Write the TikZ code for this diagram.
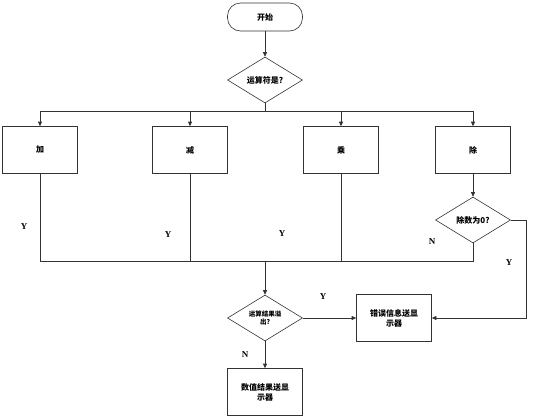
\documentclass[tikz,border=0pt]{standalone}
\usepackage{fontspec}
\setmainfont{Liberation Serif}
\newfontfamily\cjk{Noto Sans CJK SC}
\usetikzlibrary{shapes.geometric,arrows.meta}
\begin{document}
\begin{tikzpicture}[x=1pt,y=-1pt,
  line/.style={draw=black!80,line width=0.6pt},
  arr/.style={line,-{Triangle[length=4.5pt,width=4pt]}},
  procbox/.style={draw=black!80,line width=0.6pt,minimum width=75pt,minimum height=47pt,inner sep=1pt,align=center,font=\cjk\bfseries\fontsize{8}{10}\selectfont},
  decision/.style={diamond,draw=black!80,line width=0.6pt,minimum width=75pt,minimum height=46pt,aspect=1.63,inner sep=0pt,align=center,font=\cjk\bfseries\fontsize{8}{9}\selectfont},
  term/.style={draw=black!80,line width=0.6pt,rounded corners=13pt,minimum width=75pt,minimum height=28pt,font=\cjk\bfseries\fontsize{8}{10}\selectfont},
  lab/.style={font=\bfseries\fontsize{9}{10}\selectfont}]
\useasboundingbox (0,0) rectangle (548,418);
\node[term] (start) at (265,17) {开始};
\node[decision] (op) at (265,80) {运算符是?};
\node[procbox] (add) at (40,150) {加};
\node[procbox] (sub) at (190,150) {减};
\node[procbox] (mul) at (341,150) {乘};
\node[procbox] (div) at (473,150) {除};
\node[decision] (zero) at (473,220) {除数为0?};
\node[decision,font=\cjk\bfseries\fontsize{6.5}{8}\selectfont] (ovf) at (265,318) {运算结果溢\\出?};
\node[procbox] (err) at (394,318) {错误信息送显\\示器};
\node[procbox] (res) at (265,392) {数值结果送显\\示器};
\coordinate (top) at (265,111);
\coordinate (bot) at (265,261);
\coordinate (zr) at (526,220);
\draw[arr] (start) -- (op);
\draw[line] (op) -- (top);
\draw[arr] (top) -| (add);
\draw[arr] (top) -| (sub);
\draw[arr] (top) -| (mul);
\draw[arr] (top) -| (div);
\draw[arr] (div) -- (zero);
\draw[line] (add) |- (bot);
\draw[line] (sub) |- (bot);
\draw[line] (mul) |- (bot);
\draw[line] (zero) |- (bot);
\draw[arr] (bot) -- (ovf);
\draw[arr] (ovf) -- (err);
\draw[arr] (ovf) -- (res);
\draw[arr] (zero.east) -- (zr) |- (err.east);
\node[lab] (y1) at (24,227) {Y};
\node[lab] (y2) at (168,235) {Y};
\node[lab] (y3) at (282,234) {Y};
\node[lab] (n1) at (432,242) {N};
\node[lab] (y4) at (509,263) {Y};
\node[lab] (y5) at (323,297) {Y};
\node[lab] (n2) at (245,355) {N};
\end{tikzpicture}
\end{document}
